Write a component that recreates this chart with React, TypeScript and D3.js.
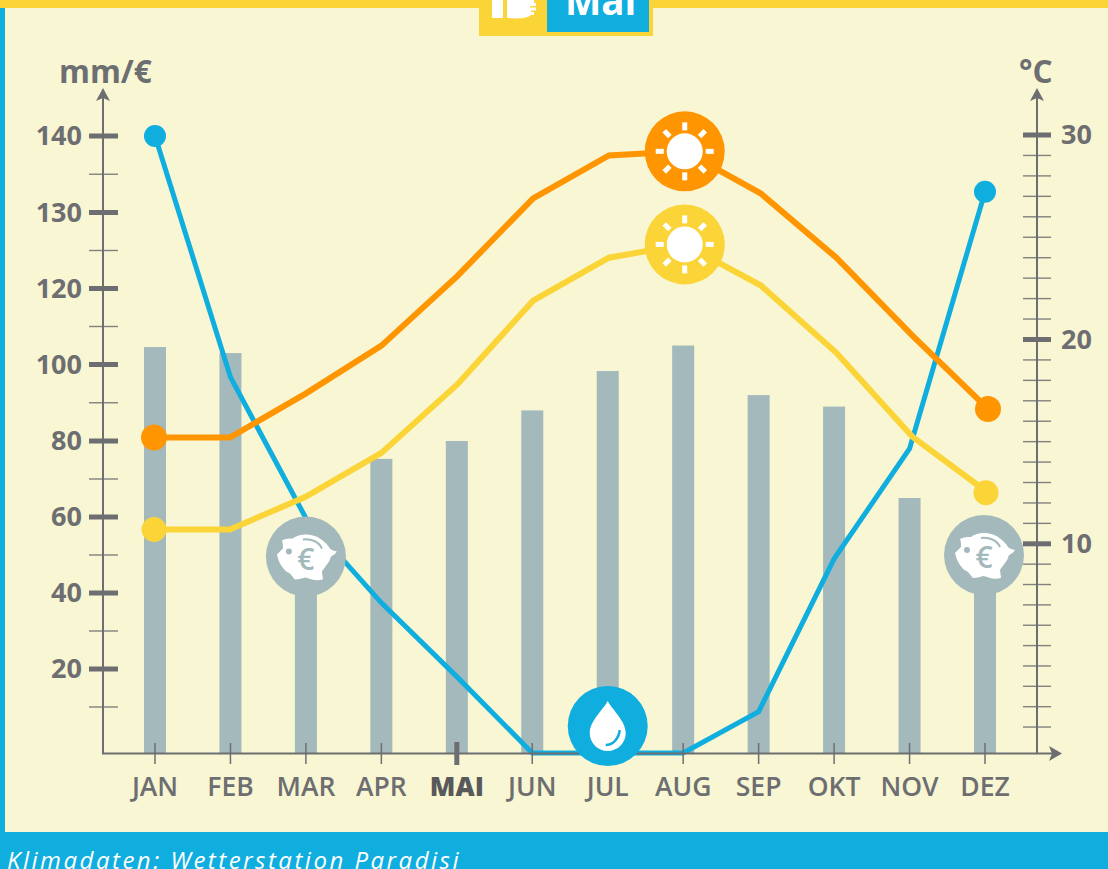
import React from "react";
import * as d3 from "d3";

const months = ["JAN","FEB","MAR","APR","MAI","JUN","JUL","AUG","SEP","OKT","NOV","DEZ"];
const rainfall = [104.6,103,49.6,75.3,80,88,98.3,105,92,89,65,50];
const costs = [140,96.7,59.7,37.4,18,0,0,0,9,49,78,132.7];
const tempMax = [15.2,15.2,17.35,19.7,23.1,26.9,29.0,29.2,27.15,24.0,20.2,16.6];
const tempMin = [10.7,10.7,12.3,14.45,17.8,21.9,24.0,24.65,22.65,19.35,15.25,12.5];
const leftMajor = [20,40,60,80,100,120,130,140];
const leftMinor = [10,30,50,70,90,110,125,135];
const rightMajor = [10,20,30];
const rightMinor = d3.range(1,30).filter(d => d % 10 !== 0);

const GREY = "#6D6E71", CREAM = "#F9F6D3", YELLOW = "#FBD437", BLUE = "#0FAEDF", ORANGE = "#FF9500", BAR = "#A3B9BB";
const FONT = "'Open Sans', sans-serif";

const x = d3.scalePoint<string>().domain(months).range([155,985]);
const xTemp = d3.scalePoint<string>().domain(months).range([154,988]);
const yL = d3.scaleLinear()
  .domain([0,10,20,40,60,80,100,120,130,140])
  .range([753,707,669,593,517,441,364.5,288.5,212.5,136]);
const yR = d3.scaleLinear().domain([0,10,20,30]).range([747.4,543.8,339.5,135]);

const AXIS_L = 103, AXIS_R = 1037, BASE = 753.5;

const lineOf = (xs: any, ys: any) => d3.line<number>().x((_, i) => xs(months[i])).y(d => ys(d));

function Sun({ cx, cy, color }: any) {
  return (
    <g transform={`translate(${cx},${cy})`}>
      <circle r={40} fill={color} />
      <circle r={18} fill="#fff" />
      {d3.range(8).map(i => (
        <rect key={i} x={-2.5} y={-29} width={5} height={8} fill="#fff" transform={`rotate(${i*45})`} />
      ))}
    </g>
  );
}

function Pig({ cx, cy }: any) {
  return (
    <g transform={`translate(${cx},${cy})`}>
      <circle r={40} fill={BAR} />
      <path fill="#fff" d="M-24,-16 C-20,-18 -16,-18 -13,-18 C-9,-21 -5,-22 -1,-22 C6,-22 11,-20 14,-18 C19,-15 22,-11 24,-8 C26,-6 28,-6 31,-5 C29,-2 27,-1 25,0 C24,3 23,6 21,8 C19,11 17,13 16,15 L17,23 C13,24 9,24 6,23 C3,22 1,21 -1,21 C-4,22 -8,23 -11,23 L-16,17 C-20,15 -22,13 -24,10 C-27,6 -28,2 -29,-2 C-27,-4 -25,-6 -23,-8 C-23,-11 -23,-14 -24,-16 Z" />
      <circle cx={-17} cy={-5} r={3} fill={BAR} />
      <path d="M-3,-17 C5,-18 13,-15 16,-8" fill="none" stroke={BAR} strokeWidth={2} />
      <text x={0} y={13} textAnchor="middle" fontFamily={FONT} fontSize={30} fill={BAR} fontWeight={600}>€</text>
    </g>
  );
}

function Drop({ cx, cy }: any) {
  return (
    <g transform={`translate(${cx},${cy})`}>
      <circle r={40} fill={BLUE} />
      <path fill="#fff" d="M0,-25 C4,-17 18,-5 18,7 C18,17 10,25 0,25 C-10,25 -18,17 -18,7 C-18,-5 -4,-17 0,-25 Z" />
      <path d="M-2,19 C5,19 11,13 12,4" fill="none" stroke={BLUE} strokeWidth={2.5} />
    </g>
  );
}

export default function App() {
  const numStyle = { fontFamily: FONT, fontSize: 27, fill: GREY, fontWeight: 700 };
  return (
    <svg width={1108} height={869} viewBox="0 0 1108 869" style={{ position: "absolute", left: 0, top: 0, display: "block" }}>
      <rect width={1108} height={869} fill={CREAM} />
      <rect width={5} height={869} fill={BLUE} />
      <rect width={1108} height={8} fill={YELLOW} />
      <rect x={479} width={174} height={36} fill={YELLOW} />
      <rect x={547} width={102} height={32} fill={BLUE} />
      <path fill="#fff" d="M492,0 H503 V18 H492 Z M507,0 H534 V3 H536 V6 H530 V7.5 H536 V10.5 H531 V12 H534 V15 H531 C528,18 520,19 507,18 Z" />
      <text x={565} y={15} fontFamily={FONT} fontWeight={700} fontSize={38.5} fill="#fff">Mai</text>
      <rect y={832} width={1108} height={37} fill={BLUE} />
      <text x={7} y={869} fontFamily={FONT} fontStyle="italic" fontSize={24} letterSpacing={2.5} fill="#fff">Klimadaten: Wetterstation Paradisi</text>

      {months.map((m, i) => (
        <rect key={m} x={x(m)! - 11} y={yL(rainfall[i])} width={22} height={BASE - yL(rainfall[i])} fill={BAR} />
      ))}

      <path d={lineOf(x, yL)(costs)!} fill="none" stroke={BLUE} strokeWidth={5} />
      <path d={lineOf(xTemp, yR)(tempMin)!} fill="none" stroke={YELLOW} strokeWidth={6} />
      <path d={lineOf(xTemp, yR)(tempMax)!} fill="none" stroke={ORANGE} strokeWidth={6} />

      <path d={`M${AXIS_L},96 V${BASE} H1052`} fill="none" stroke={GREY} strokeWidth={2} />
      <path d={`M${AXIS_R},96 V${BASE}`} fill="none" stroke={GREY} strokeWidth={2} />
      <path d={`M${AXIS_L},88 L${AXIS_L+7},101 L${AXIS_L},98 L${AXIS_L-7},101 Z`} fill={GREY} />
      <path d={`M${AXIS_R},88 L${AXIS_R+7},101 L${AXIS_R},98 L${AXIS_R-7},101 Z`} fill={GREY} />
      <path d={`M1062,753.5 L1049,746 L1052,753.5 L1049,761 Z`} fill={GREY} />

      {leftMinor.map(v => <line key={v} x1={89} x2={118} y1={yL(v)} y2={yL(v)} stroke={GREY} strokeWidth={1.4} opacity={0.85} />)}
      {leftMajor.map(v => (
        <g key={v}>
          <line x1={89} x2={118} y1={yL(v)} y2={yL(v)} stroke={GREY} strokeWidth={5} />
          <text x={82} y={yL(v) + 9} textAnchor="end" {...numStyle}>{v}</text>
        </g>
      ))}
      {rightMinor.map(v => <line key={v} x1={1023} x2={1051} y1={yR(v)} y2={yR(v)} stroke={GREY} strokeWidth={1.4} opacity={0.85} />)}
      {rightMajor.map(v => (
        <g key={v}>
          <line x1={1023} x2={1051} y1={yR(v)} y2={yR(v)} stroke={GREY} strokeWidth={5} />
          <text x={1061} y={yR(v) + 9} {...numStyle}>{v}</text>
        </g>
      ))}
      <text x={59} y={83} fontFamily={FONT} fontWeight={700} fontSize={31.5} fill={GREY}>mm/€</text>
      <text x={1019} y={83} fontFamily={FONT} fontWeight={700} fontSize={31.5} fill={GREY}>°C</text>

      {months.map(m => {
        const active = m === "MAI";
        return (
          <g key={m}>
            <line x1={x(m)} x2={x(m)} y1={active ? 742 : 743} y2={active ? 765 : 764} stroke={GREY} strokeWidth={active ? 5 : 1.5} />
            <text x={x(m)} y={796} textAnchor="middle" fontFamily={FONT} fontSize={26.5} fontWeight={active ? 800 : 600} fill={active ? "#58595B" : GREY}>{m}</text>
          </g>
        );
      })}

      <circle cx={xTemp("JAN")} cy={yR(tempMax[0])} r={13} fill={ORANGE} />
      <circle cx={xTemp("DEZ")} cy={yR(tempMax[11])} r={13} fill={ORANGE} />
      <circle cx={xTemp("JAN")} cy={yR(tempMin[0])} r={12.5} fill={YELLOW} />
      <circle cx={xTemp("DEZ") - 2} cy={yR(tempMin[11])} r={12.5} fill={YELLOW} />
      <circle cx={x("JAN")} cy={yL(costs[0])} r={11} fill={BLUE} />
      <circle cx={x("DEZ")} cy={yL(costs[11])} r={11} fill={BLUE} />

      <Sun cx={xTemp("AUG")} cy={yR(tempMax[7])} color={ORANGE} />
      <Sun cx={xTemp("AUG")} cy={yR(tempMin[7])} color={YELLOW} />
      <Pig cx={x("MAR")} cy={yL(rainfall[2])} />
      <Pig cx={x("DEZ") - 1} cy={yL(rainfall[11])} />
      <Drop cx={x("JUL")} cy={726} />
    </svg>
  );
}
